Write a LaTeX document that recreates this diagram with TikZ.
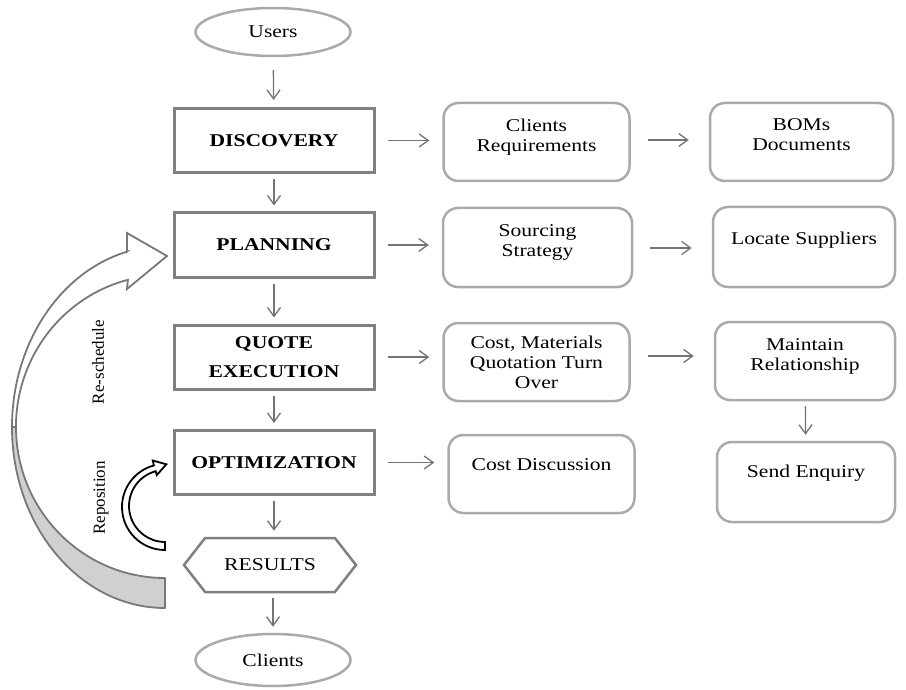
\documentclass[tikz,border=0pt]{standalone}
\usepackage{fontspec}
\setmainfont{Liberation Serif}[FakeStretch=1.2]
\newfontfamily\rotfont{Liberation Serif}
\usetikzlibrary{arrows.meta,shapes.geometric,shapes.symbols}
\definecolor{boxgray}{RGB}{128,128,128}
\definecolor{roundgray}{RGB}{170,170,170}
\definecolor{arrowgray}{RGB}{115,115,115}
\definecolor{bandgray}{RGB}{120,120,120}
\definecolor{bandfill}{RGB}{208,208,208}
\begin{document}
\begin{tikzpicture}[x=1pt,y=-1pt,
  font=\fontsize{18}{20}\selectfont,
  mainbox/.style={draw=boxgray,line width=3pt,minimum width=200pt,minimum height=64pt,
    font=\fontsize{18}{20}\selectfont\bfseries,align=center},
  rbox/.style={draw=roundgray,line width=2.5pt,rounded corners=15pt,minimum width=186pt,
    minimum height=78pt,align=center},
  oval/.style={ellipse,draw=roundgray,line width=2.5pt,minimum width=155pt,minimum height=48pt},
  flow/.style={draw=arrowgray,line width=1.3pt,-{Straight Barb[length=9pt,width=13pt]}},
  vflow/.style={flow,shorten <=5pt,shorten >=6pt},
  hflow/.style={flow,shorten <=12pt,shorten >=13pt},
]
\useasboundingbox (0,0) rectangle (906,690);

% big re-schedule arrow
\path[draw=bandgray,line width=1.8pt,fill=bandfill,line join=round]
  (12,427) arc[start angle=180,end angle=90,x radius=153,y radius=181]
  -- (165,578) arc[start angle=90,end angle=180,x radius=149,y radius=151] -- cycle;
\path[draw=bandgray,line width=1.8pt,fill=white,line join=miter]
  (126.95,251.7) -- (127,233) -- (167,256) -- (127,289) -- (127.9,279.8)
  arc[start angle=255.6,end angle=180,x radius=149,y radius=152]
  -- (12,427) arc[start angle=180,end angle=255.6,x radius=153,y radius=181] -- cycle;

% reposition arrow
\path[draw=black,line width=1.8pt,fill=white,line join=miter]
  (165,550) arc[start angle=90,end angle=255,radius=43]
  -- (152.8,460.5) -- (166.3,464.3) -- (156.8,475.1) -- (155.7,471.2)
  arc[start angle=255,end angle=90,radius=36] -- cycle;

\node[rotate=90,font=\rotfont\fontsize{17}{19}\selectfont] (resch) at (98,362) {Re-schedule};
\node[rotate=90,font=\rotfont\fontsize{17}{19}\selectfont] (repo) at (101,498) {Reposition};

% main column
\node[oval] (users) at (273,32) {Users};
\node[mainbox] (disc) at (274,140.5) {DISCOVERY};
\node[mainbox] (plan) at (274,245) {PLANNING};
\node[mainbox] (quote) at (274,357) {QUOTE\\[9pt]EXECUTION};
\node[mainbox] (opt) at (274,462.5) {OPTIMIZATION};
\node[signal,signal to=east and west,signal pointer angle=104,draw=boxgray,line width=2.5pt,
  minimum width=172pt,minimum height=54pt] (res) at (270,565) {RESULTS};
\node[oval,minimum height=52pt] (cli) at (273,660) {Clients};

% right columns
\node[rbox,text depth=14pt] (cr) at (536.5,142) {Clients\\Requirements};
\node[rbox,text depth=14pt,minimum width=183pt] (bom) at (801.5,142) {BOMs\\Documents};
\node[rbox,text depth=13pt,minimum width=189pt,minimum height=79pt] (ss) at (537.5,247.5) {Sourcing\\Strategy};
\node[rbox,text depth=18pt,minimum width=182pt,minimum height=80pt] (ls) at (804,247) {Locate Suppliers};
\node[rbox] (cm) at (536.5,362) {Cost, Materials\\Quotation Turn\\Over};
\node[rbox,text depth=12pt,minimum width=180pt] (mr) at (805,361) {Maintain\\Relationship};
\node[rbox,text depth=18pt] (cd) at (541.5,474) {Cost Discussion};
\node[rbox,text depth=22pt,minimum width=178pt,minimum height=80pt] (se) at (806,482) {Send Enquiry};

% vertical connectors
\draw[flow,shorten <=13pt,shorten >=7pt] (users) -- (disc);
\draw[vflow] (disc) -- (plan);
\draw[vflow] (plan) -- (quote);
\draw[vflow] (quote) -- (opt);
\draw[vflow] (opt.south) -- (opt.south |- res.north);
\draw[vflow] (cli.north |- res.south) -- (cli.north);
\draw[vflow] (mr) -- (se);

% horizontal connectors
\draw[hflow] (disc.east) -- (disc.east -| cr.west);
\draw[hflow] (plan.east) -- (plan.east -| ss.west);
\draw[hflow] (quote.east) -- (quote.east -| cm.west);
\draw[hflow] (opt.east) -- (opt.east -| cd.west);
\draw[flow,shorten <=17pt,shorten >=20pt] ([yshift=2pt]cr.east) -- ([yshift=2pt]cr.east -| bom.west);
\draw[flow,shorten <=17pt,shorten >=20pt] ([yshift=-0.5pt]ss.east) -- ([yshift=-0.5pt]ss.east -| ls.west);
\draw[flow,shorten <=17pt,shorten >=20pt] ([yshift=6pt]cm.east) -- ([yshift=6pt]cm.east -| mr.west);
\end{tikzpicture}
\end{document}
